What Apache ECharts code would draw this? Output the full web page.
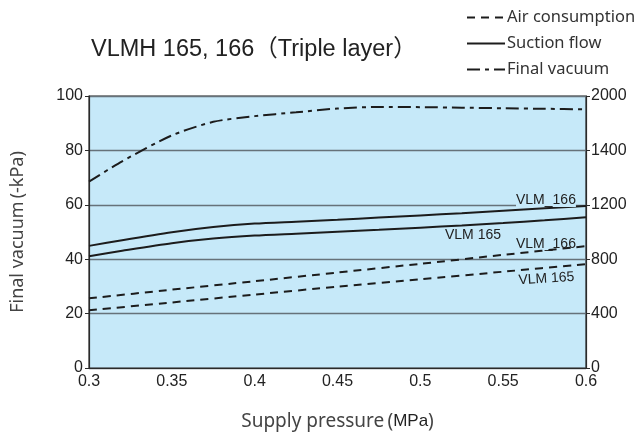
<!DOCTYPE html>
<html><head><meta charset="utf-8">
<script src="https://cdn.jsdelivr.net/npm/echarts@6/dist/echarts.min.js"></script>
<style>html,body{margin:0;padding:0;background:#fff}#c{width:638px;height:436px}</style>
</head><body><div id="c"></div>
<script>
// Supply pressure (MPa)
const pressure = [0.3, 0.32, 0.35, 0.375, 0.4, 0.425, 0.45, 0.475, 0.5, 0.525, 0.55, 0.575, 0.6];
// Final vacuum (-kPa), left axis
const finalVacuum = [68.5, 76.0, 85.5, 90.5, 92.6, 94.0, 95.4, 96.0, 95.9, 95.7, 95.5, 95.3, 95.1];
// Suction flow (L/min), right axis
const suction166 = [898, 940, 998, 1036, 1062, 1076, 1090, 1106, 1122, 1138, 1156, 1174, 1192];
const suction165 = [822, 862, 918, 952, 974, 988, 1002, 1016, 1032, 1048, 1066, 1086, 1108];
// Air consumption (L/min), right axis
const airPressure = [0.3, 0.35, 0.4, 0.45, 0.5, 0.55, 0.6];
const air166 = [512, 576, 638, 702, 766, 832, 896];
const air165 = [424, 482, 540, 598, 652, 708, 764];
// Tick labels
const xTicks = ['0.3', '0.35', '0.4', '0.45', '0.5', '0.55', '0.6'];
const leftTicks = ['0', '20', '40', '60', '80', '100'];
const rightTicks = ['0', '400', '800', '1200', '1400', '2000'];
const legendNames = ['Air consumption', 'Suction flow', 'Final vacuum'];
const curveLabels = ['VLM_166', 'VLM 165', 'VLM_166', 'VLM 165'];

const zip = (xs, ys) => xs.map((x, i) => [x, ys[i]]);
const ink = '#1c1c1c';
const dashed = [8, 6];
const dashDot = [13, 5, 4, 5];
const labelFont = { fontFamily: 'Liberation Sans, Arial, sans-serif', fontSize: 14, fill: '#222' };

const chart = echarts.init(document.getElementById('c'), null, { renderer: 'canvas' });
const lineSeries = (name, data, yIdx, type) => ({
  name, type: 'line', data, yAxisIndex: yIdx, symbol: 'none', smooth: 0.25,
  lineStyle: { color: ink, width: 2, type }, itemStyle: { color: ink }, z: 5, silent: true
});

chart.setOption({
  animation: false,
  title: {
    text: 'VLMH 165, 166（Triple layer）', left: 86, top: 33,
    textStyle: { fontFamily: 'Liberation Sans, Noto Sans CJK JP, sans-serif', fontSize: 23.5, fontWeight: 'normal', color: '#222' }
  },
  legend: {
    data: legendNames, orient: 'vertical', left: 461, top: 4, itemWidth: 38, itemHeight: 12, itemGap: 9,
    selectedMode: false, itemStyle: { opacity: 0 },
    textStyle: { fontFamily: 'Noto Sans, sans-serif', fontSize: 16.5, color: '#333', padding: [0, 0, 0, -3] }
  },
  grid: { left: 89, right: 52, top: 96, bottom: 65, show: true, backgroundColor: '#c6e9f9', borderColor: '#2a2a2a', borderWidth: 1.2 },
  xAxis: {
    type: 'value', min: 0.3, max: 0.6, interval: 0.05,
    axisLine: { show: true, lineStyle: { color: '#2a2a2a', width: 1.2 } },
    axisTick: { show: false }, splitLine: { show: false },
    axisLabel: { margin: 6, fontFamily: 'Liberation Sans, Arial, sans-serif', fontSize: 16, color: '#222',
      formatter: (v) => xTicks[Math.round((v - 0.3) / 0.05)] },
    name: 'Supply pressure\u2009({b|MPa})', nameLocation: 'middle', nameGap: 44,
    nameTextStyle: { fontFamily: 'Noto Sans, sans-serif', fontSize: 19, color: '#444',
      rich: { b: { fontFamily: 'Liberation Sans, Arial, sans-serif', fontSize: 17, color: '#222' } } }
  },
  yAxis: [{
    type: 'value', min: 0, max: 100, interval: 20, position: 'left',
    axisLine: { show: true, lineStyle: { color: '#2a2a2a', width: 1.2 } },
    axisTick: { show: true, length: 4, lineStyle: { color: '#2a2a2a' } },
    splitLine: { show: true, lineStyle: { color: '#66727a', width: 1.3 } },
    axisLabel: { margin: 6, fontFamily: 'Liberation Sans, Arial, sans-serif', fontSize: 16, color: '#222',
      formatter: (v) => leftTicks[Math.round(v / 20)] },
    name: 'Final vacuum\u2009(-kPa)', nameLocation: 'middle', nameGap: 62, nameRotate: 90,
    nameTextStyle: { fontFamily: 'Noto Sans, sans-serif', fontSize: 18, color: '#444' }
  }, {
    type: 'value', min: 0, max: 2000, interval: 400, position: 'right',
    axisLine: { show: true, lineStyle: { color: '#2a2a2a', width: 1.2 } },
    axisTick: { show: true, length: 4, lineStyle: { color: '#2a2a2a' } },
    splitLine: { show: false },
    axisLabel: { margin: 5, fontFamily: 'Liberation Sans, Arial, sans-serif', fontSize: 16, color: '#222',
      formatter: (v) => rightTicks[Math.round(v / 400)] }
  }],
  series: [
    lineSeries(legendNames[0], zip(airPressure, air166), 1, dashed),
    lineSeries(legendNames[0], zip(airPressure, air165), 1, dashed),
    lineSeries(legendNames[1], zip(pressure, suction166), 1, 'solid'),
    lineSeries(legendNames[1], zip(pressure, suction165), 1, 'solid'),
    lineSeries(legendNames[2], zip(pressure, finalVacuum), 0, dashDot)
  ],
  graphic: [
    { type: 'text', left: 516, top: 193, z: 10, style: Object.assign({ text: curveLabels[0], backgroundColor: '#c6e9f9' }, labelFont) },
    { type: 'text', left: 445, top: 228, z: 10, style: Object.assign({ text: curveLabels[1] }, labelFont) },
    { type: 'text', left: 516, top: 237, z: 10, style: Object.assign({ text: curveLabels[2] }, labelFont) },
    { type: 'text', left: 518, top: 270, z: 10, rotation: 0.06, style: Object.assign({ text: curveLabels[3] }, labelFont) }
  ]
});
</script>
</body></html>
